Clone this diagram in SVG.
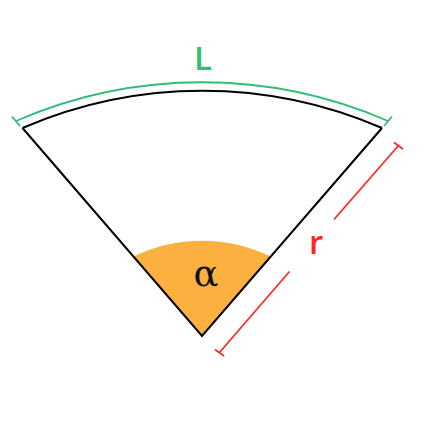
<svg xmlns="http://www.w3.org/2000/svg" width="425" height="425" viewBox="0 0 425 425">
<style>
.edge{fill:none;stroke:#000;stroke-width:2;stroke-linejoin:miter}
.green{fill:none;stroke:#33bb77;stroke-width:1.8}
.red{fill:none;stroke:#ff2525;stroke-width:1.7}
.lbl{font-family:"Open Sans","Liberation Sans",Arial,sans-serif;font-weight:600;font-size:33px;text-anchor:middle}
</style>
<rect width="425" height="425" fill="#fff"/>
<g id="angle">
<path d="M202,336 L133.4,256.5 A156,156 0 0 1 270.7,256.6 Z" fill="#fbb040"/>
<text x="206" y="286" style="font-family:'DejaVu Serif','Liberation Serif',serif;font-size:37px;text-anchor:middle" fill="#111">α</text>
</g>
<g id="sector">
<path class="edge" d="M22.5,128 L202,336 L382,128"/>
<path class="edge" d="M22.5,128 A452,452 0 0 1 382,128"/>
</g>
<g id="connectors">
<g id="arc-length">
<path class="green" d="M16,121 A466,466 0 0 1 388,121"/>
<path class="green" d="M12,116.5 L20,126"/>
<path class="green" d="M392,116.5 L384,126"/>
</g>
<g id="radius">
<path class="red" d="M219.5,352.5 L289.5,271.5 M334,219.5 L398.5,145.5"/>
<path class="red" d="M215,349.5 L224,356"/>
<path class="red" d="M394,142.5 L403,149"/>
</g>
</g>
<g id="label-L"><text class="lbl" x="203" y="70" fill="#33bb77">L</text></g>
<g id="label-r"><text class="lbl" x="316" y="254" fill="#ff2525">r</text></g>
</svg>
